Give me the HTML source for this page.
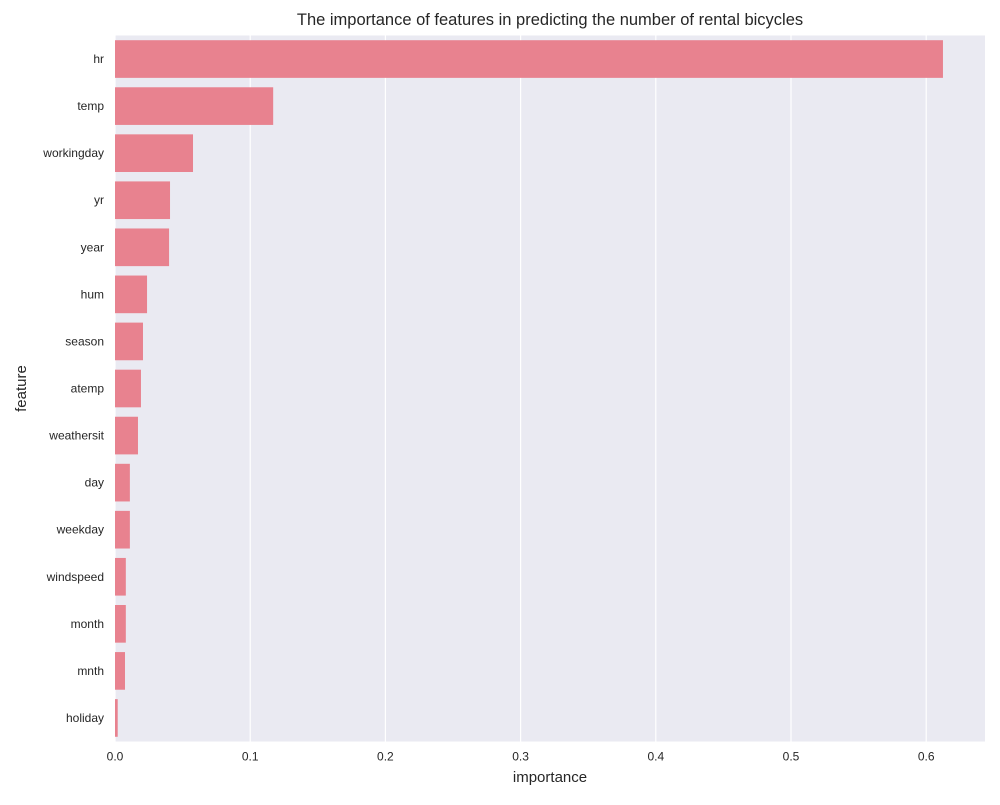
<!DOCTYPE html>
<html><head><meta charset="utf-8"><style>
body{margin:0;background:#fff;font-family:"Liberation Sans",sans-serif;}
</style></head><body>
<svg id="chart" width="1000" height="800" xmlns="http://www.w3.org/2000/svg"></svg>
<script>
const features = ["hr","temp","workingday","yr","year","hum","season","atemp","weathersit","day","weekday","windspeed","month","mnth","holiday"];
const importance = [0.6124,0.117,0.0577,0.0407,0.040,0.0237,0.0207,0.0192,0.017,0.011,0.011,0.008,0.008,0.0074,0.002];
const xTicks = [0,0.1,0.2,0.3,0.4,0.5,0.6];
const xTickLabels = ["0.0","0.1","0.2","0.3","0.4","0.5","0.6"];

const NS="http://www.w3.org/2000/svg";
const svg=document.getElementById('chart');
const L=115,R=985,T=35.5,B=741.5;
const xs=v=>L+v*1352;
const band=(B-T)/features.length;
const ys=i=>T+i*band;
function mk(tag,attrs,text){const e=document.createElementNS(NS,tag);for(const k in attrs)e.setAttribute(k,attrs[k]);if(text!==undefined)e.textContent=text;svg.appendChild(e);return e;}

const bg=mk('rect',{x:L,y:T,width:R-L,height:B-T,fill:'#eaeaf2'});



xTicks.forEach((t,i)=>{
  const g=mk('line',{x1:xs(t),x2:xs(t),y1:T,y2:B,stroke:'#fff','stroke-width':1.2});
  
  
  const lb=mk('text',{x:xs(t),y:B+19,'text-anchor':'middle','font-size':12,fill:'#262626'},xTickLabels[i]);
  
  
});

features.forEach((f,i)=>{
  const y=ys(i)+band*0.1;
  const b=mk('rect',{x:L,y:y,width:xs(importance[i])-L,height:band*0.8,fill:'#e8828f'});
  
  
  const lb=mk('text',{x:L-11,y:ys(i)+band/2+4,'text-anchor':'end','font-size':12,fill:'#262626'},f);
  
  
});

const title=mk('text',{x:(L+R)/2,y:25,'text-anchor':'middle','font-size':16.5,fill:'#262626'},'The importance of features in predicting the number of rental bicycles');


const xt=mk('text',{x:(L+R)/2,y:782,'text-anchor':'middle','font-size':15,fill:'#262626'},'importance');


const yt=mk('text',{x:26,y:(T+B)/2,'text-anchor':'middle','font-size':15,fill:'#262626',transform:`rotate(-90 26 ${(T+B)/2})`},'feature');


</script>
</body></html>
